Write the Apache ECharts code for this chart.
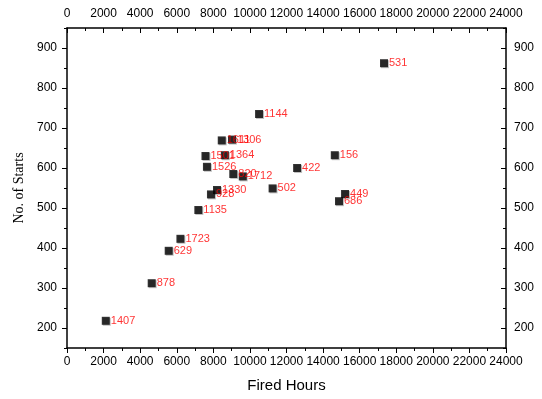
<!DOCTYPE html>
<html>
<head>
<meta charset="utf-8">
<script src="https://cdn.jsdelivr.net/npm/echarts@6/dist/echarts.min.js"></script>
<style>
    html, body { margin: 0; padding: 0; background: #fff; }
    #chart { width: 542px; height: 399px; }
</style>
</head>
<body>
<div id="chart"></div>
<script>
// unit ids, fired hours, number of starts
var unitNames = ['1407', '878', '629', '1723', '1135', '928', '1330', '1526', '1501', '1611', '1306',
    '1364', '820', '1712', '1144', '502', '422', '156', '686', '449', '531'];
var firedHours = [2120, 4630, 5560, 6200, 7180, 7870, 8200, 7650, 7570, 8460, 9020,
    8630, 9090, 9610, 10500, 11240, 12580, 14640, 14870, 15200, 17330];
var numStarts = [218, 312, 393, 423, 495, 534, 545, 603, 630, 669, 671,
    632, 585, 579, 735, 549, 600, 632, 517, 535, 862];
var startTicks = [200, 300, 400, 500, 600, 700, 800, 900];

var points = [];
for (var i = 0; i < unitNames.length; i++) {
    points.push({ name: unitNames[i], value: [firedHours[i], numStarts[i]] });
}

var font = 'Liberation Sans, Arial, sans-serif';
var lineStyle = { color: '#000', width: 1.5 };
var tickStyle = { color: '#000', width: 1 };

function xAxis(pos, showName) {
    return {
        type: 'value',
        position: pos,
        min: 0, max: 24000, interval: 2000,
        name: showName ? 'Fired Hours' : '',
        nameLocation: 'middle',
        nameGap: 30,
        nameTextStyle: { fontFamily: font, fontSize: 15, color: '#000' },
        axisLine: { show: true, onZero: false, lineStyle: lineStyle },
        axisTick: { show: true, inside: pos == 'top', length: 5, lineStyle: tickStyle },
        minorTick: { show: true, splitNumber: 2, length: 3, lineStyle: tickStyle },
        splitLine: { show: false },
        axisLabel: {
            fontFamily: font, fontSize: 12, color: '#000', margin: 8,
            showMinLabel: true, showMaxLabel: true,
            formatter: function (v) { return String(v); }
        }
    };
}

// main y axis: ticks + labels at hundreds
function yAxis(pos, showName) {
    return {
        type: 'value',
        position: pos,
        min: 150, max: 950,
        name: showName ? 'No. of Starts' : '',
        nameLocation: 'middle',
        nameGap: 40,
        nameTextStyle: { fontFamily: 'Liberation Serif, Times New Roman, serif', fontSize: 14, color: '#000' },
        axisLine: { show: true, onZero: false, lineStyle: lineStyle },
        axisTick: { show: true, inside: pos == 'right', length: 5, lineStyle: tickStyle, customValues: startTicks },
        splitLine: { show: false },
        axisLabel: {
            fontFamily: font, fontSize: 12, color: '#000', margin: pos == 'right' ? 8 : 10,
            customValues: startTicks,
            formatter: function (v) { return String(v); }
        }
    };
}

// extra y axis only for the short ticks every 50
function yMinor(pos) {
    return {
        type: 'value',
        position: pos,
        min: 150, max: 950, interval: 50,
        axisLine: { show: false, onZero: false },
        axisTick: { show: true, inside: pos == 'right', length: 3, lineStyle: tickStyle },
        axisLabel: { show: false },
        splitLine: { show: false }
    };
}

var chart = echarts.init(document.getElementById('chart'), null, { renderer: 'canvas' });
chart.setOption({
    backgroundColor: '#fff',
    animation: false,
    grid: { left: 67, right: 36, top: 28, bottom: 51 },
    xAxis: [xAxis('bottom', true), xAxis('top', false)],
    yAxis: [yAxis('left', true), yAxis('right', false), yMinor('left'), yMinor('right')],
    series: [{
        type: 'scatter',
        symbol: 'rect',
        symbolSize: 8,
        itemStyle: {
            color: '#000',
            shadowColor: 'rgba(0,0,0,0.3)',
            shadowOffsetX: 1,
            shadowOffsetY: 1,
            shadowBlur: 0
        },
        label: {
            show: true,
            position: 'right',
            distance: 1,
            formatter: '{b}',
            color: '#ff0000',
            fontFamily: font,
            fontSize: 11
        },
        data: points
    }]
});
</script>
</body>
</html>
